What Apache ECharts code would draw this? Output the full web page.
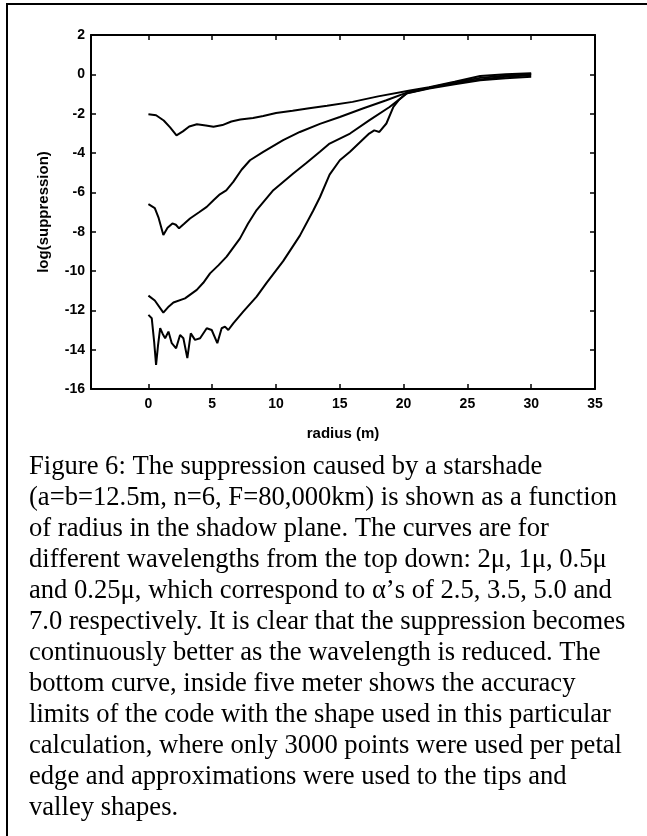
<!DOCTYPE html>
<html>
<head>
<meta charset="utf-8">
<script src="https://cdn.jsdelivr.net/npm/echarts@6/dist/echarts.min.js"></script>
<style>
  html, body { margin: 0; padding: 0; background: #fff; }
  #chart { width: 647px; height: 836px; }
</style>
</head>
<body>
<div id="chart"></div>
<script>
// radius (m) vs log(suppression)
var curve2um = [[0,-2.03],[0.6,-2.08],[1.2,-2.35],[1.7,-2.7],[2.2,-3.1],[2.7,-2.9],[3.2,-2.65],[3.8,-2.54],
  [4.5,-2.6],[5.1,-2.67],[5.8,-2.58],[6.5,-2.4],[7.2,-2.3],[8.2,-2.22],[9,-2.12],[10,-1.97],[11.3,-1.85],
  [12.6,-1.72],[14,-1.6],[16,-1.4],[18,-1.12],[20.5,-0.82],[22,-0.66],[24,-0.38],[26,-0.08],[28,0],[30,0.06]];
var curve1um = [[0,-6.6],[0.5,-6.8],[0.8,-7.3],[1.17,-8.17],[1.5,-7.8],[1.88,-7.58],[2.15,-7.65],[2.4,-7.83],
  [2.8,-7.6],[3.26,-7.33],[4,-7],[4.57,-6.74],[5.1,-6.4],[5.6,-6.1],[6.1,-5.9],[6.65,-5.47],[7.3,-4.85],
  [7.96,-4.37],[9,-3.94],[10.56,-3.35],[11.87,-2.93],[13.44,-2.52],[15,-2.17],[16.8,-1.74],[18.65,-1.32],
  [20.3,-0.92],[22,-0.68],[24,-0.42],[26,-0.18],[28,-0.06],[30,0.02]];
var curve05um = [[0,-11.25],[0.5,-11.5],[1.17,-12.12],[1.6,-11.8],[1.96,-11.6],[2.87,-11.39],[3.79,-10.96],
  [4.3,-10.6],[4.83,-10.12],[5.5,-9.7],[6.13,-9.27],[7.18,-8.34],[7.8,-7.6],[8.48,-6.9],[9.79,-5.89],
  [11.35,-5.04],[12.4,-4.5],[13.44,-3.94],[14.2,-3.52],[15.8,-3.01],[17.3,-2.34],[18.9,-1.66],[19.9,-1.15],
  [20.3,-0.95],[22,-0.7],[24,-0.46],[26,-0.26],[28,-0.12],[30,-0.05]];
var curve025um = [[0,-12.23],[0.26,-12.4],[0.45,-13.6],[0.6,-14.77],[0.75,-13.8],[0.92,-12.91],[1.12,-13.2],
  [1.31,-13.42],[1.57,-13.08],[1.83,-13.67],[2.17,-13.93],[2.48,-13.25],[2.74,-13.42],[3.05,-14.43],
  [3.32,-13.17],[3.65,-13.5],[4.05,-13.42],[4.57,-12.91],[4.96,-13],[5.4,-13.67],[5.74,-12.91],[6,-12.83],
  [6.26,-13],[6.65,-12.66],[7.43,-12.07],[8.48,-11.3],[9.26,-10.6],[10.56,-9.5],[11.87,-8.2],[12.9,-6.95],
  [13.44,-6.25],[14.2,-5.1],[15,-4.37],[15.8,-3.94],[16.6,-3.44],[17.3,-3.01],[17.7,-2.85],[18.1,-2.93],
  [18.65,-2.5],[19.2,-1.66],[19.6,-1.32],[20.2,-0.98],[22,-0.72],[24,-0.5],[26,-0.3],[28,-0.2],[30,-0.12]];

var xTicks = [0, 5, 10, 15, 20, 25, 30, 35];

var caption = [
  'Figure 6: The suppression caused by a starshade',
  '(a=b=12.5m, n=6, F=80,000km) is shown as a function',
  'of radius in the shadow plane. The curves are for',
  'different wavelengths from the top down: 2\u03bc, 1\u03bc, 0.5\u03bc',
  'and 0.25\u03bc, which correspond to \u03b1\u2019s of 2.5, 3.5, 5.0 and',
  '7.0 respectively. It is clear that the suppression becomes',
  'continuously better as the wavelength is reduced. The',
  'bottom curve, inside five meter shows the accuracy',
  'limits of the code with the shape used in this particular',
  'calculation, where only 3000 points were used per petal',
  'edge and approximations were used to the tips and',
  'valley shapes.'
];

var chart = echarts.init(document.getElementById('chart'));

var black = { color: '#000', width: 2 };
var tickStyle = { color: '#000', width: 1.5 };
var labelFont = { color: '#000', fontFamily: 'Liberation Sans, Arial, sans-serif', fontWeight: 'bold', fontSize: 14 };
var nameFont = { color: '#000', fontFamily: 'Liberation Sans, Arial, sans-serif', fontWeight: 'bold', fontSize: 15 };

function lineSeries(name, data) {
  return {
    name: name,
    type: 'line',
    data: data,
    symbol: 'none',
    smooth: false,
    lineStyle: { color: '#000', width: 2 },
    z: 3
  };
}

var option = {
  backgroundColor: '#fff',
  animation: false,
  grid: {
    left: 91,
    right: 52,
    top: 35,
    bottom: 447
  },
  xAxis: [
    {
      type: 'value',
      position: 'bottom',
      min: -4.5,
      max: 35,
      name: 'radius (m)',
      nameLocation: 'middle',
      nameGap: 37,
      nameTextStyle: nameFont,
      axisLine: { onZero: false, lineStyle: black },
      axisTick: { inside: true, length: 5, customValues: xTicks, lineStyle: tickStyle },
      axisLabel: Object.assign({ customValues: xTicks, margin: 8 }, labelFont),
      splitLine: { show: false }
    },
    {
      type: 'value',
      position: 'top',
      min: -4.5,
      max: 35,
      axisLine: { onZero: false, lineStyle: black },
      axisTick: { inside: true, length: 5, customValues: xTicks, lineStyle: tickStyle },
      axisLabel: { show: false },
      splitLine: { show: false }
    }
  ],
  yAxis: [
    {
      type: 'value',
      position: 'left',
      min: -16,
      max: 2,
      interval: 2,
      name: 'log(suppression)',
      nameLocation: 'middle',
      nameGap: 40,
      nameTextStyle: nameFont,
      axisLine: { show: true, onZero: false, lineStyle: black },
      axisTick: { show: true, inside: true, length: 5, lineStyle: tickStyle },
      axisLabel: Object.assign({ margin: 6 }, labelFont),
      splitLine: { show: false }
    },
    {
      type: 'value',
      position: 'right',
      min: -16,
      max: 2,
      interval: 2,
      axisLine: { show: true, onZero: false, lineStyle: black },
      axisTick: { show: true, inside: true, length: 5, lineStyle: tickStyle },
      axisLabel: { show: false },
      splitLine: { show: false }
    }
  ],
  series: [
    lineSeries('2\u03bc', curve2um),
    lineSeries('1\u03bc', curve1um),
    lineSeries('0.5\u03bc', curve05um),
    lineSeries('0.25\u03bc', curve025um)
  ],
  graphic: [
    {
      type: 'polyline',
      shape: { points: [[7, 836], [7, 4], [647, 4]] },
      style: { stroke: '#000', lineWidth: 2, fill: null }
    },
    {
      type: 'text',
      left: 29,
      top: 452,
      style: {
        text: caption.join('\n'),
        font: '26.6px "Liberation Serif", "Times New Roman", serif',
        fill: '#000',
        lineHeight: 31
      }
    }
  ]
};

chart.setOption(option);
</script>
</body>
</html>
